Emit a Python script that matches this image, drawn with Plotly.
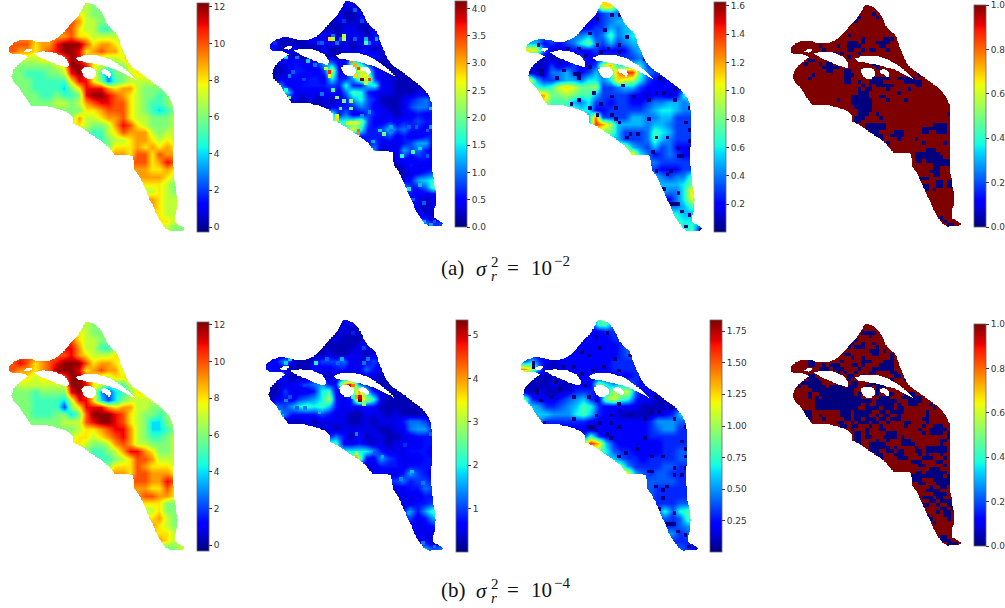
import numpy as np
import plotly.graph_objects as go

W, H = 1005, 608
NR, NC = 62, 48          # fine grid of the model cells
MAP_X = (28.0, 555.0)    # map extent in map units
MAP_Y = (10.0, 695.0)
AXIS_PAD = 3.0           # the axes run this far past the map
MASK_PAD = 11.0          # the white surround runs this far past the map

# outline of the domain and of its holes, in map units
OUTLINE = [(265,10),(285,16),(300,30),(312,50),(322,72),(335,88),(352,103),(358,115),(363,135),(372,155),(385,185),
(400,205),(425,222),(450,240),(470,255),(490,270),(510,295),(520,320),(522,360),(521,420),(520,470),(521,520),
(527,560),(533,600),(531,630),(525,650),(527,668),(545,678),(555,686),(548,692),(512,693),(497,684),(480,660),
(468,640),(462,620),(450,600),(438,570),(420,530),(405,510),(400,470),(385,465),(345,465),(325,440),(300,420),
(270,400),(240,380),(218,370),(218,350),(205,338),(180,328),(140,318),(95,318),(78,295),(60,265),(40,245),(36,230),
(42,210),(55,195),(85,172),(78,166),(60,162),(40,163),(28,155),(30,140),(45,128),(70,120),(95,122),(115,128),
(145,128),(170,118),(190,100),(215,70),(235,50),(250,25),(255,13)]
HOLES = [
    [(70,155),(82,146),(97,146),(95,152),(85,158)],
    [(100,160),(130,155),(165,158),(195,172),(207,190),(205,204),(180,198),(150,185),(125,175)],
    [(228,176),(250,167),(290,166),(330,178),(360,196),(385,215),(410,240),(385,228),(345,208),(300,195),(260,188),(238,184)],
    [(245,212),(255,203),(272,202),(288,212),(290,228),(278,237),(262,237),(250,228)],
    [(303,212),(315,208),(330,214),(335,228),(328,235),(318,225),(306,222)],
]

# first coarse column of every coarse row of the value tables
ROW_START = [9,9,8,8,7,0,0,1,0,0,0,1,2,2,6,8,8,10,12,13,14,17,17,17,18,18,19,19,20,20,21]

MEAN_A = ["6766","8766","a97766","a877556","9a887777","aaa899bccca89987","a9989abccb89a997",
"777889acb9877789","66666678ccb876668","66555667bca8536678","666555558bb863567777",
"665555468bbb98997666","66556556bccba9876656","666677679abbaa8765567","6666889aaa8765456",
"6977899a8776667","8876679ba876667","65578a9997677","56778998787","6888989898","998aa8a99",
"aa89ba","998898","999987","88876","77876","98777","98777","877","887","766"]
ERR_A = ["1221","2112","121122","1122112","22122213","2111122232212232","3122111211212212",
"3211222112323312","12232236523a73211","11233224c238e83211","122323328336cd322111",
"52233334383378221111","72222232598322211121","221212123684311123453","11233354221124553",
"935224322122323","b889b4223233433","9d83347453323","33334232233","3422234662","512264532",
"232332","123222","112234","23678","63359","32223","22122","212","321","534"]
STD_A = ["4bb5","2344","223455","2335455","45347456","5523234684353455","ba41122223222245",
"1111223223333343","21131232239c66663","111445323547cee743","a53345546646ba963212",
"767aba88933455322222","c8898775333322122126","a77754633233223445545","76622333334566544",
"5d3333554455333","5ec955554554333","8853334765333","53334754333","9543534222","b64234322",
"433333","322233","543447","55568","5446b","246a8","44576","655","766","673"]
MEAN_B = ["6766","8766","a87766","b977556","ab987778","aba89abccca89987","a9989acccb89a997",
"887889acca877889","67777777ccb875557","66656666bca8324568","666555547bb842467777",
"665555268bbb98997766","65556646acccba876656","66666777abccba8764467","6667889abb9764456",
"788789ab9765567","8876679a9776667","655679bb98667","55678aa9777","6888a98887","998aa9998",
"aa99ba","9988a8","9aa998","88866","77866","89766","98766","887","987","667"]
ERR_B = ["1221","1211","121112","1111221","12112212","2362112444522243","3221113223322532",
"4211122121122212","1122345633gi53111","114222389237g83211","12324568c323gc921111",
"54689897323233111111","53333432211222121111","211212222112122235542","21212222211225663",
"353131221122333","992232121222233","8888632223332","c3264322233","2233323333","222236432",
"453443","223354","222233","22334","36369","42368","22234","222","221","645"]
STD_B = ["2884","2233","222233","2222234","22222234","4632122222223333","eb41122222223333",
"1111222222222233","11112112229756532","112111233326aab422","932223456329b8732211",
"65334568732222211112","66555786322111112236","533333322222222355544","22212222222345533",
"383222222333333","agd632222223333","9743322223344","64332333344","9533334433","c54344333",
"444433","433333","433333","33344","47478","43487","33455","534","333","432"]

# units of one table digit
UNIT_MEAN, UNIT_ERR_A, UNIT_STD, UNIT_ERR_B = 1.0, 0.2, 0.1, 0.25

# isolated cells: (row, column, value)
HOT_A = [(10,16,2.8),(10,17,2.4),(10,20,2.4),(9,20,2.4),(11,26,1.8),(19,16,3.6),(20,16,2.6),(18,15,2.5),
(16,22,3.2),(17,23,3.0),(18,24,3.5),(20,23,2.8),(21,25,4.1),(21,27,3.5),(20,26,2.6),(22,26,2.4),
(36,24,3.2),(35,24,3.3),(31,18,2.6),(32,18,2.8),(33,21,2.5),(33,22,2.5),(33,23,2.5),(33,24,2.3),
(2,23,0.9),(5,20,0.7),(5,25,0.8),(9,17,1.0),(10,23,0.9),(10,26,1.3),(11,27,1.0),(10,29,1.2),(11,14,0.9),(11,13,0.8),
(10,19,0.9),(11,18,1.0),(11,1,0.7),(15,4,1.4),(15,7,1.0),(16,10,1.4),(17,12,1.0),(19,6,0.9),(20,5,1.0),(21,9,0.8),
(24,4,1.6),(26,5,2.0),(25,14,1.0),(24,17,1.8),(26,18,2.2),(27,20,2.0),(27,22,2.2),(29,22,2.0),(29,19,1.8),(30,27,1.1),
(31,25,1.1),(35,30,1.4),(36,31,2.0),(34,33,1.2),(35,33,1.0),(34,38,0.9),(34,40,0.9),(35,43,0.9),(29,44,1.3),(34,44,1.2),
(38,28,1.2),(41,28,1.4),(42,36,1.6),(41,39,1.8),(40,41,1.4),(42,43,0.9),(51,38,1.5),(50,41,1.3),(60,42,1.2),(61,44,1.2),
(60,45,0.9),(54,39,0.9),(55,42,0.9)]
HOT_B = [(17,21,3.9),(17,22,4.8),(17,23,4.2),(20,24,4.0),(20,25,5.0),(21,25,5.3),(22,26,2.8),(36,24,3.8),
(35,24,3.0),(21,27,2.6),(10,20,1.6),(20,23,2.2),(11,13,2.0),
(3,23,0.8),(7,26,1.0),(11,19,1.2),(10,16,1.2),(11,26,1.3),(10,27,1.3),(9,30,1.0),(11,5,1.8),(10,6,1.8),(14,4,1.5),
(17,10,1.0),(20,6,1.1),(21,5,1.4),(24,3,2.0),(25,4,1.6),(23,10,1.3),(23,8,1.2),(24,14,1.6),(30,24,1.4),(36,31,1.6),
(35,29,1.1),(40,39,1.7),(42,36,1.4),(43,42,1.3),(30,44,1.2),(51,38,1.5),(59,42,1.3),(60,45,1.3),(33,37,0.9)]
LOW_A = [(4,19),(3,23),(3,25),(8,17),(7,21),(9,27),(11,25),(11,19),(12,11),(12,14),(14,16),(13,20),(12,22),
(13,25),(15,32),(11,3),(18,4),(19,4),(18,10),(19,13),(19,14),(20,8),(20,14),(17,17),(20,36),(24,35),(23,40),
(24,37),(25,29),(22,26),(24,18),(25,23),(26,33),(26,40),(28,44),(26,14),(27,12),(28,17),(27,20),(30,19),(28,24),
(30,23),(31,24),(32,25),(31,33),(32,43),(34,44),(35,30),(35,28),(36,27),(36,35),(36,38),(37,44),(39,41),(39,44),
(40,34),(41,41),(41,42),(45,35),(46,38),(45,39),(50,37),(51,41),(54,39),(54,40),(54,41),(56,42),(57,44),(60,43),(61,47)]
LOW_B = [(4,20),(3,23),(7,21),(8,16),(9,18),(10,25),(9,29),(11,3),(12,3),(12,11),(12,14),(14,16),(12,22),(13,19),
(13,26),(15,32),(16,9),(18,10),(18,4),(19,4),(20,8),(21,5),(18,13),(20,14),(17,17),(20,18),(21,20),(20,36),(24,35),
(23,40),(24,37),(25,29),(22,26),(25,20),(25,24),(26,33),(26,41),(28,44),(26,14),(28,18),(28,19),(27,21),(28,26),
(27,6),(29,20),(27,24),(30,23),(31,24),(31,33),(32,43),(34,44),(34,31),(35,28),(36,26),(36,35),(36,38),(36,44),
(39,41),(39,44),(40,34),(40,35),(41,41),(41,43),(44,36),(45,38),(44,39),(47,38),(50,37),(51,41),(54,39),(54,40),
(54,41),(56,42),(57,44),(60,45),(61,47)]

# cells below the threshold, column runs per row
BLUE_A = {2:"23",3:"19 24",4:"18",8:"16",9:"20 26-28",10:"16-18 20 24-27",11:"8 13 16-19 25-26",
12:"9 16-17 20 22-23 27",13:"12 14 19",14:"16",15:"5-6",16:"4 8 10-11 23-24",17:"9-13 24",18:"10-11 15-16 25",
19:"6 15-17 36",20:"5 15-16 23-27 30-34",21:"15-16 19 22-25 32-36",22:"20 22 24-28 35-36",23:"19 21-22 27 33",
24:"19-21 30",25:"17-21 25-26",26:"13 17-22 27 32",27:"17-22",28:"18-22",29:"19-22",30:"19-21 24 44",31:"18-20 25",
32:"18-19 45",33:"21-26 40-43 45",34:"21-26 37-43",35:"22-24 29-31 37-38 41-43",36:"23-25 28-31",37:"25 30 35",
38:"27 37 43",40:"38-40",41:"35-41",42:"35-42",43:"35-36 38-44",44:"40-44",45:"40-41",46:"39-41",47:"40-41",
48:"36-38",49:"41-42 44-45",50:"37-38 41-42 44-45",51:"37-38 40",59:"42",60:"43",61:"44-45"}
BLUE_B = {2:"20-23",3:"22",4:"18 26",5:"17 20 23",6:"16 18-20 24",7:"22-24 26",8:"15-16 23-24 28",9:"17 20 28 30",
10:"5-6 14 20-22 26-28",11:"5-6 9 11-13 17-18 20 25-28",12:"8-10 12-14 19 23-28",13:"8-10 13 15 18 22-23 28-29",
14:"5-6 16-17 20 29-30",15:"5-7 16 28 32",16:"3-8 17-18 22-24",17:"2 5-9 11-14 16-18 21-22 24-26",18:"6-17 20 24",
19:"5 8-17 19 24 27-28 32-34",20:"5 7 9-19 25-27 31-36",21:"7-22 24-29 33-36",22:"7-19 21 24-28 30 33-35 39",
23:"7-18 21-24 26-28 30-31 40",24:"4-5 14-16 18-22 25-26 28-31 38",25:"4-5 8 14-16 18-21 24 26-27 30 38",
26:"5 9 15-16 18-19 21-23 25-26 28-30 37-38",27:"13-14 17 19-21 23-24 27 32-33 38",28:"14-15 17-18 22 25 32 37 40-42",
29:"17 21 25-26 36 39-43",30:"18-19 21 27-29 37 39-42 44",31:"18-19 21-22 26-29 31 44-45",32:"18-19 24 27 31-33 42-43",
33:"19 22-26 31-34 42 45",34:"22-27 29 35 38-43",35:"22-24 27-28 30-31 35-36 38-43",36:"24-25 29-31 36 38 42",
37:"25 30-32 37-39 43",38:"34-36 41-42",39:"36-37 43",40:"39-41",41:"35-36 38-43",42:"34-42 44",43:"34-36 40-44",
44:"36-37 41-44",45:"39 42-43",46:"38-41",47:"40-43",48:"37-39 41-42",49:"39-40 42-44",50:"37-38 41 44-45",
51:"42-43 45",52:"41 43-44 46",53:"38 43-44",54:"39 44",55:"40",59:"42-43",60:"42-44",61:"44-46"}

# panels: pixel box of the map, left edge of the colour bar, colour range, ticks
TICKS_12 = [0, 2, 4, 6, 8, 10, 12]
TICKS_ERR_A = [0.0, 0.5, 1.0, 1.5, 2.0, 2.5, 3.0, 3.5, 4.0]
TICKS_STD_A = [0.2, 0.4, 0.6, 0.8, 1.0, 1.2, 1.4, 1.6]
TICKS_UNIT = [0.0, 0.2, 0.4, 0.6, 0.8, 1.0]
TICKS_ERR_B = [1, 2, 3, 4, 5]
TICKS_STD_B = [0.25, 0.50, 0.75, 1.00, 1.25, 1.50, 1.75]

PANEL_BOX = [(9,185,3,232),(270,444,1,227),(526,703,2,232),(791,962,5,227),
             (9,185,322,551),(266,444,320,552),(521,699,320,552),(791,962,324,546)]
BAR_X = [197,455,714,974,197,456,710,974]
Z_RANGE = [(-0.27,12.2),(0,4.14),(0.005,1.626),(0,1),(-0.31,12.15),(0,5.35),(0.005,1.837),(0,1)]
TICKS = [TICKS_12,TICKS_ERR_A,TICKS_STD_A,TICKS_UNIT,TICKS_12,TICKS_ERR_B,TICKS_STD_B,TICKS_UNIT]
FORMATS = ["d",".1f",".1f",".1f","d","d",".2f",".1f"]

JET = [[0,"rgb(0,0,127)"],[0.11,"rgb(0,0,255)"],[0.125,"rgb(0,0,255)"],[0.34,"rgb(0,219,255)"],
       [0.375,"rgb(20,255,226)"],[0.64,"rgb(238,255,8)"],[0.66,"rgb(255,236,0)"],[0.89,"rgb(255,19,0)"],
       [0.91,"rgb(232,0,0)"],[1,"rgb(127,0,0)"]]
WHITE = [[0,"white"],[1,"white"]]


def runs(text):
    out = []
    for part in text.split():
        a, _, b = part.partition("-")
        out.extend(range(int(a), int(b or a) + 1))
    return out


def inside(px, py, poly):
    result = np.zeros(px.shape, bool)
    for (x1, y1), (x2, y2) in zip(poly, poly[1:] + poly[:1]):
        if y1 == y2:
            continue
        crosses = (y1 > py) != (y2 > py)
        result ^= crosses & (px < x1 + (py - y1) * (x2 - x1) / (y2 - y1))
    return result


def centres(lo, hi, n):
    step = (hi - lo) / n
    return lo + step * (np.arange(n) + 0.5)


def outside_mask():
    xs = centres(MAP_X[0] - MASK_PAD, MAP_X[1] + MASK_PAD, 272)
    ys = centres(MAP_Y[0] - MASK_PAD, MAP_Y[1] + MASK_PAD, 350)
    px, py = np.meshgrid(xs, ys)
    keep = inside(px, py, OUTLINE)
    for hole in HOLES:
        keep &= ~inside(px, py, hole)
    return xs, ys, np.where(keep, np.nan, 1.0)


def coarse(rows, unit):
    z = np.zeros((len(rows), NC // 2))
    for R, row in enumerate(rows):
        for C in range(NC // 2):
            i = min(max(C - ROW_START[R], 0), len(row) - 1)
            z[R, C] = int(row[i], 36) * unit
    return z


def binary(blue):
    z = np.ones((NR, NC))
    for r, text in blue.items():
        z[r, runs(text)] = 0.0
    return z


def cells(items, default=0.01):
    z = np.full((NR, NC), np.nan)
    for item in items:
        z[item[0], item[1]] = item[2] if len(item) > 2 else default
    return z


BASES = [
    (coarse(MEAN_A, UNIT_MEAN), "best", None),
    (coarse(ERR_A, UNIT_ERR_A), "best", HOT_A),
    (coarse(STD_A, UNIT_STD), "best", LOW_A),
    (binary(BLUE_A), False, None),
    (coarse(MEAN_B, UNIT_MEAN), "best", None),
    (coarse(ERR_B, UNIT_ERR_B), "best", HOT_B),
    (coarse(STD_B, UNIT_STD), "best", LOW_B),
    (binary(BLUE_B), False, None),
]

mask_x, mask_y, mask_z = outside_mask()
fine_x, fine_y = centres(*MAP_X, NC), centres(*MAP_Y, NR)
coarse_x, coarse_y = centres(*MAP_X, NC // 2), centres(*MAP_Y, len(ROW_START))
span_x, span_y = MAP_X[1] - MAP_X[0], MAP_Y[1] - MAP_Y[0]

fig = go.Figure()
layout = dict(width=W, height=H, margin=dict(l=0, r=0, t=0, b=0), paper_bgcolor="white",
              plot_bgcolor="white", showlegend=False)

for i, (z, smooth, extra) in enumerate(BASES):
    x0, x1, y0, y1 = PANEL_BOX[i]
    n = "" if i == 0 else str(i + 1)
    pad_x = (x1 - x0) * AXIS_PAD / span_x
    pad_y = (y1 - y0) * AXIS_PAD / span_y
    layout["xaxis" + n] = dict(domain=[(x0 - pad_x) / W, (x1 + pad_x) / W],
                               range=[MAP_X[0] - AXIS_PAD, MAP_X[1] + AXIS_PAD], visible=False,
                               anchor="y" + n, fixedrange=True)
    layout["yaxis" + n] = dict(domain=[1 - (y1 + pad_y) / H, 1 - (y0 - pad_y) / H],
                               range=[MAP_Y[1] + AXIS_PAD, MAP_Y[0] - AXIS_PAD], visible=False,
                               anchor="x" + n, fixedrange=True)
    fmt = FORMATS[i]
    xs, ys = (coarse_x, coarse_y) if smooth else (fine_x, fine_y)
    fig.add_trace(go.Heatmap(
        z=z, x=xs, y=ys, xaxis="x" + n, yaxis="y" + n,
        colorscale=JET, zmin=Z_RANGE[i][0], zmax=Z_RANGE[i][1], zsmooth=smooth, hoverinfo="skip",
        colorbar=dict(x=BAR_X[i] / W, xanchor="left", xpad=0, y=1 - y0 / H, yanchor="top", ypad=0,
                      len=(y1 - y0) / H, lenmode="fraction", thickness=11.5, thicknessmode="pixels",
                      outlinewidth=0.8, outlinecolor="#666666", ticks="outside", ticklen=3, tickwidth=0.7,
                      tickcolor="#333333", tickmode="array", tickvals=TICKS[i],
                      ticktext=[format(t, fmt) for t in TICKS[i]],
                      tickfont=dict(family="DejaVu Sans", size=9, color="#333333")),
    ))
    if extra is not None:
        fig.add_trace(go.Heatmap(z=cells(extra), x=fine_x, y=fine_y, xaxis="x" + n, yaxis="y" + n, colorscale=JET,
                                 zmin=Z_RANGE[i][0], zmax=Z_RANGE[i][1], showscale=False, hoverinfo="skip"))
    fig.add_trace(go.Heatmap(z=mask_z, x=mask_x, y=mask_y, xaxis="x" + n, yaxis="y" + n, colorscale=WHITE,
                             zmin=0, zmax=1, showscale=False, hoverinfo="skip"))

CAPTIONS = [("(a)", "−2", 0), ("(b)", "−4", 322)]
SERIF = "Liberation Serif"
ann = []


def put(text, x, y, size, italic=False):
    ann.append(dict(text="<i>%s</i>" % text if italic else text, x=x / W, y=1 - y / H, xref="paper", yref="paper",
                    xanchor="left", yanchor="middle", showarrow=False, borderpad=0,
                    font=dict(family=SERIF, size=size, color="#111111")))


for label, power, dy in CAPTIONS:
    put(label, 440, 268 + dy, 21)
    put("σ", 475, 269 + dy, 21, True)
    put("2", 490, 262 + dy, 15)
    put("r", 490, 276 + dy, 15, True)
    put("=", 507, 268 + dy, 21)
    put("10", 531, 268 + dy, 21)
    put(power, 554, 261 + dy, 15)

layout["annotations"] = ann
fig.update_layout(**layout)
fig.write_html("out.html", config=dict(displayModeBar=False),
               post_script="document.body.style.margin='0';")
